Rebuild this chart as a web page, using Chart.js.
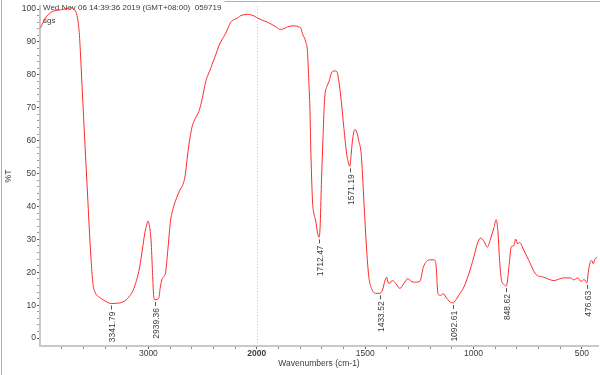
<!DOCTYPE html>
<html>
<head>
<meta charset="utf-8">
<script src="https://cdn.jsdelivr.net/npm/chart.js@4.4.0/dist/chart.umd.min.js"></script>
<style>
html, body { margin: 0; padding: 0; background: #fff; }
#wrap { width: 600px; height: 375px; position: relative; }
</style>
</head>
<body>
<div id="wrap"><canvas id="irChart"></canvas></div>
<script>
// spectrum, wavenumber (cm-1) -> %T
const wavenumbers = [
    3995, 3950, 3900, 3850, 3800, 3760, 3713, 3690, 3667, 3650, 3636, 3620, 3605, 3590, 3574, 3558,
    3543, 3527, 3512, 3490, 3451, 3400, 3342, 3290, 3234, 3180, 3142, 3110, 3081, 3055, 3034, 3015,
    3003, 2990, 2975, 2962, 2951, 2939, 2920, 2904, 2890, 2875, 2855, 2843, 2820, 2796, 2775, 2750,
    2725, 2704, 2680, 2660, 2642, 2625, 2611, 2595, 2580, 2555, 2534, 2503, 2472, 2450, 2426, 2400,
    2380, 2350, 2333, 2310, 2287, 2260, 2241, 2220, 2194, 2170, 2148, 2110, 2086, 2050, 2025, 2000,
    1975, 1950, 1930, 1910, 1890, 1870, 1859, 1828, 1806, 1797, 1789, 1774, 1766, 1760, 1755, 1751,
    1743, 1736, 1728, 1720, 1713, 1708, 1702, 1694, 1687, 1677, 1667, 1656, 1644, 1631, 1621, 1610,
    1598, 1585, 1577, 1571, 1565, 1559, 1548, 1539, 1529, 1518, 1506, 1493, 1483, 1471, 1452, 1434,
    1420, 1410, 1401, 1395, 1390, 1375, 1359, 1340, 1321, 1303, 1287, 1267, 1247, 1232, 1217, 1198,
    1183, 1174, 1164, 1152, 1140, 1128, 1109, 1093, 1080, 1068, 1045, 1022, 999, 983, 968, 952,
    937, 922, 906, 896, 888, 880, 871, 860, 849, 837, 826, 814, 806, 796, 787, 771,
    745, 714, 676, 630, 584, 553, 538, 519, 505, 490, 477, 470, 462, 455, 448, 440, 430
];
const transmittance = [
    94.3, 97.3, 99.0, 99.6, 99.8, 100.1, 100.4, 100.0, 99.0, 96.5, 92.0, 82.0, 72.0, 62.0, 51.7, 41.5,
    31.7, 23.0, 16.6, 13.8, 12.4, 11.3, 10.5, 10.6, 11.0, 12.5, 14.5, 17.5, 21.5, 27.0, 31.7, 34.5,
    35.6, 34.0, 29.5, 20.0, 12.8, 11.6, 11.8, 12.2, 15.5, 17.8, 18.8, 19.6, 27.0, 35.6, 39.0, 41.7,
    43.8, 45.3, 46.8, 49.5, 54.7, 59.0, 61.9, 64.5, 65.9, 67.5, 68.9, 72.8, 77.9, 80.0, 81.9, 84.3,
    86.0, 88.8, 90.0, 91.3, 92.6, 94.6, 96.0, 96.6, 97.0, 97.5, 98.0, 98.3, 98.4, 98.2, 97.9, 97.4,
    96.6, 96.0, 95.3, 94.5, 93.8, 94.2, 94.6, 94.9, 94.6, 94.2, 92.5, 90.0, 87.0, 78.0, 70.0, 58.0,
    41.7, 37.7, 35.6, 32.0, 30.6, 33.6, 46.8, 61.9, 72.8, 76.4, 77.9, 80.5, 81.2, 81.0, 77.9, 71.9,
    63.7, 55.8, 53.2, 52.2, 55.5, 59.8, 63.4, 62.6, 59.8, 55.8, 41.7, 26.6, 18.5, 15.1, 13.6, 13.6,
    14.6, 17.2, 18.5, 17.0, 16.6, 17.5, 16.6, 15.1, 16.6, 18.1, 17.2, 17.0, 17.3, 21.5, 23.3, 23.8,
    23.8, 22.6, 13.5, 13.0, 13.5, 12.5, 11.0, 10.7, 11.8, 13.0, 15.5, 19.5, 24.6, 28.6, 30.4, 29.4,
    27.6, 30.1, 33.6, 36.0, 32.6, 23.6, 17.5, 16.3, 15.8, 21.5, 27.8, 28.1, 30.1, 28.6, 29.1, 27.1,
    23.6, 19.5, 18.5, 17.5, 18.3, 18.3, 17.7, 18.3, 17.2, 17.8, 16.8, 20.5, 23.0, 23.6, 22.6, 24.0, 24.6
];

// picked peaks
const peakWavenumbers = [3341.79, 2939.36, 1712.47, 1571.19, 1433.52, 1092.61, 848.62, 476.63];
const peakTransmittance = [10.5, 11.6, 30.6, 52.2, 13.6, 10.7, 15.8, 16.8];

const xLabelTicks = [3000, 2000, 1500, 1000, 500];
const xMinorTicks = [3800, 3600, 3400, 3200, 2800, 2600, 2400, 2200,
    1900, 1800, 1700, 1600, 1400, 1300, 1200, 1100, 900, 800, 700, 600];
const yLabelTicks = [0, 10, 20, 30, 40, 50, 60, 70, 80, 90, 100];

const headerText = 'Wed Nov 06 14:39:36 2019 (GMT+08:00)  059719';
const sampleName = 'sgs';

const FONT = '"Liberation Sans", Arial, sans-serif';
const TEXT = '#3a3a3a';

// OMNIC style axis: 4000-2000 is drawn at half scale
function toAxis(wn) {
    return wn >= 2000 ? (4000 - wn) / 2 : 1000 + (2000 - wn);
}
function fromAxis(u) {
    return u <= 1000 ? 4000 - 2 * u : 2000 - (u - 1000);
}

const points = wavenumbers.map((wn, i) => ({ x: toAxis(wn), y: transmittance[i] }));

const extras = {
    id: 'extras',
    beforeDatasetsDraw(chart) {
        const { ctx, chartArea, scales } = chart;
        ctx.save();
        // frame bits
        ctx.strokeStyle = '#b0b0b0';
        ctx.lineWidth = 1;
        ctx.beginPath();
        ctx.moveTo(1.5, 0); ctx.lineTo(1.5, chart.height);
        ctx.stroke();
        // dotted line at the scale break
        const xb = Math.round(scales.x.getPixelForValue(toAxis(2000))) + 0.5;
        ctx.strokeStyle = '#c4c4c4';
        ctx.setLineDash([1, 2]);
        ctx.beginPath();
        ctx.moveTo(xb, chartArea.top); ctx.lineTo(xb, chartArea.bottom);
        ctx.stroke();
        ctx.setLineDash([]);
        // header
        ctx.font = '8px ' + FONT;
        ctx.fillStyle = TEXT;
        ctx.textBaseline = 'middle';
        ctx.fillText(headerText, chartArea.left + 3, 8);
        ctx.fillText(sampleName, chartArea.left + 3, 21);
        const w = ctx.measureText(headerText).width;
        ctx.strokeStyle = '#b0b0b0';
        ctx.beginPath();
        ctx.moveTo(chartArea.left + w + 6, 1.5); ctx.lineTo(chart.width, 1.5);
        ctx.stroke();
        ctx.restore();
    },
    afterDatasetsDraw(chart) {
        const { ctx, scales } = chart;
        ctx.save();
        ctx.font = '8.5px ' + FONT;
        ctx.fillStyle = TEXT;
        ctx.strokeStyle = '#555';
        ctx.lineWidth = 1;
        peakWavenumbers.forEach((wn, i) => {
            const x = Math.round(scales.x.getPixelForValue(toAxis(wn))) + 0.5;
            const y = scales.y.getPixelForValue(peakTransmittance[i]);
            ctx.beginPath();
            ctx.moveTo(x, y + 2); ctx.lineTo(x, y + 6);
            ctx.stroke();
            ctx.save();
            ctx.translate(x + 1, y + 8);
            ctx.rotate(-Math.PI / 2);
            ctx.textAlign = 'right';
            ctx.textBaseline = 'middle';
            ctx.fillText(wn.toFixed(2), 0, 0);
            ctx.restore();
        });
        ctx.restore();
    }
};

new Chart(document.getElementById('irChart'), {
    type: 'line',
    data: {
        datasets: [{
            data: points,
            borderColor: '#ff2a2a',
            borderWidth: 1,
            pointRadius: 0,
            tension: 0.3,
            cubicInterpolationMode: 'monotone',
            fill: false
        }]
    },
    options: {
        responsive: true,
        maintainAspectRatio: false,
        animation: false,
        parsing: false,
        layout: { padding: { top: 4, right: 2, left: 0, bottom: 0 } },
        plugins: {
            legend: { display: false },
            tooltip: { enabled: false }
        },
        scales: {
            x: {
                type: 'linear',
                min: toAxis(4000),
                max: toAxis(426),
                afterBuildTicks: (s) => {
                    s.ticks = xLabelTicks.concat(xMinorTicks)
                        .sort((a, b) => b - a)
                        .map(wn => ({ value: toAxis(wn) }));
                },
                afterFit: (s) => { s.height = 29; },
                grid: {
                    drawOnChartArea: false,
                    tickLength: 3,
                    tickColor: (c) => xLabelTicks.includes(Math.round(fromAxis(c.tick.value))) ? '#555' : '#888'
                },
                border: { color: '#c8c8c8', width: 2 },
                ticks: {
                    autoSkip: false,
                    maxRotation: 0,
                    padding: 0,
                    color: TEXT,
                    font: (c) => ({
                        family: FONT,
                        size: 8.5,
                        weight: c.tick && Math.round(fromAxis(c.tick.value)) === 2000 ? 'bold' : 'normal'
                    }),
                    callback: (v) => {
                        const wn = Math.round(fromAxis(v));
                        return xLabelTicks.includes(wn) ? String(wn) : '';
                    }
                },
                title: {
                    display: true,
                    text: 'Wavenumbers (cm-1)',
                    color: TEXT,
                    font: { family: FONT, size: 8.5 },
                    padding: { top: 2, bottom: 6 }
                }
            },
            y: {
                min: -2.4,
                max: 100.9,
                afterBuildTicks: (s) => {
                    const t = [];
                    for (let v = 0; v <= 100; v += 2) t.push({ value: v });
                    s.ticks = t;
                },
                afterFit: (s) => { s.width = 40; },
                grid: {
                    drawOnChartArea: false,
                    tickLength: 3,
                    tickColor: (c) => yLabelTicks.includes(c.tick.value) ? '#555' : '#999'
                },
                border: { color: '#c8c8c8', width: 2 },
                ticks: {
                    autoSkip: false,
                    padding: 1,
                    color: TEXT,
                    font: { family: FONT, size: 8.5 },
                    callback: (v) => yLabelTicks.includes(v) ? String(v) : ''
                },
                title: {
                    display: true,
                    text: '%T',
                    color: TEXT,
                    font: { family: FONT, size: 8.5 },
                    padding: { top: 4, bottom: 0 }
                }
            }
        }
    },
    plugins: [extras]
});
</script>
</body>
</html>
